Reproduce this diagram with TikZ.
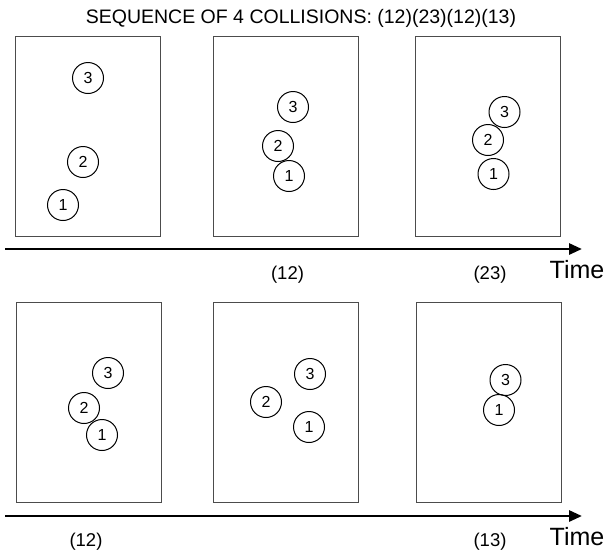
\documentclass[tikz,border=0pt]{standalone}
\usepackage{fontspec}
\setmainfont{Liberation Sans}
\usetikzlibrary{arrows.meta}
\begin{document}
\begin{tikzpicture}[x=1pt,y=-1pt,
  frame/.style={draw=black!70, line width=1.2pt, minimum width=145pt, minimum height=200pt, anchor=north west, inner sep=0pt},
  ball/.style={circle, draw=black, line width=1pt, minimum size=31pt, inner sep=0pt, font=\fontsize{16}{16}\selectfont},
  timeline/.style={line width=2.8pt, -{Triangle[length=13pt,width=11pt]}},
  lbl/.style={anchor=base, inner sep=0pt, font=\fontsize{18.5}{18.5}\selectfont},
  timelbl/.style={anchor=base, inner sep=0pt, font=\fontsize{25}{25}\selectfont},
  ttl/.style={anchor=base, inner sep=0pt, font=\fontsize{19.5}{19.5}\selectfont}]
\useasboundingbox (0,0) rectangle (607,550);
\fill[white] (0,0) rectangle (607,550);

\node[ttl] (title) at (301,23) {SEQUENCE OF 4 COLLISIONS: (12)(23)(12)(13)};

% top row
\node[frame] (b1) at (15,36) {};
\node[frame] (b2) at (213,36) {};
\node[frame] (b3) at (415,36) {};
\node[ball] (b1c3) at (88,78) {3};
\node[ball] (b1c2) at (83,162) {2};
\node[ball] (b1c1) at (63,205) {1};
\node[ball] (b2c3) at (293,107) {3};
\node[ball] (b2c2) at (278,146) {2};
\node[ball] (b2c1) at (289,176) {1};
\node[ball] (b3c3) at (504.5,112) {3};
\node[ball] (b3c2) at (488,140) {2};
\node[ball] (b3c1) at (493.5,174) {1};

\coordinate (t1s) at (5,249);
\coordinate (t1e) at (582,249);
\draw[timeline] (t1s) -- (t1e);
\node[lbl] (l1) at (287.5,279) {(12)};
\node[lbl] (l2) at (490,279) {(23)};
\node[timelbl] (time1) at (577,278) {Time};

% bottom row
\node[frame] (b4) at (16,302) {};
\node[frame] (b5) at (213,302) {};
\node[frame] (b6) at (415.5,302) {};
\node[ball] (b4c3) at (108,373) {3};
\node[ball] (b4c2) at (84,408) {2};
\node[ball] (b4c1) at (102,435) {1};
\node[ball] (b5c3) at (310,374) {3};
\node[ball] (b5c2) at (266,402) {2};
\node[ball] (b5c1) at (309,427) {1};
\node[ball] (b6c3) at (505.5,380) {3};
\node[ball] (b6c1) at (499,410) {1};

\coordinate (t2s) at (5,516);
\coordinate (t2e) at (582,516);
\draw[timeline] (t2s) -- (t2e);
\node[lbl] (l3) at (86,546) {(12)};
\node[lbl] (l4) at (490,546) {(13)};
\node[timelbl] (time2) at (577,545) {Time};
\end{tikzpicture}
\end{document}
